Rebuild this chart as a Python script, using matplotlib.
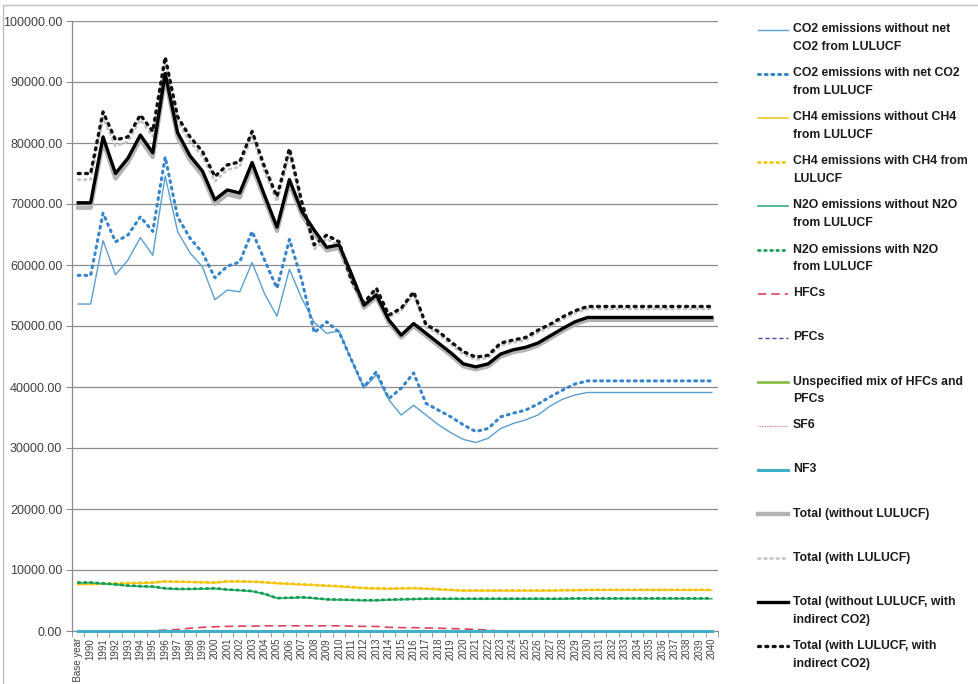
import matplotlib
matplotlib.use("Agg")
import matplotlib.pyplot as plt
from matplotlib.lines import Line2D
from matplotlib.patches import Rectangle
import numpy as np

categories = ["UNFCCC Base year", "1990", "1991", "1992", "1993", "1994", "1995", "1996", "1997",
              "1998", "1999", "2000", "2001", "2002", "2003", "2004", "2005", "2006", "2007",
              "2008", "2009", "2010", "2011", "2012", "2013", "2014", "2015", "2016", "2017",
              "2018", "2019", "2020", "2021", "2022", "2023", "2024", "2025", "2026", "2027",
              "2028", "2029", "2030", "2031", "2032", "2033", "2034", "2035", "2036", "2037",
              "2038", "2039", "2040"]

co2_without = [53600, 53600, 64000, 58400, 60800, 64500, 61600, 74600, 65500, 62000, 59700,
               54300, 55900, 55600, 60400, 55300, 51600, 59300, 54500, 50600, 48800, 49200,
               44400, 39800, 42000, 37900, 35400, 37000, 35400, 33800, 32500, 31400, 30900,
               31600, 33200, 34000, 34600, 35400, 36900, 38000, 38700, 39100, 39100, 39100,
               39100, 39100, 39100, 39100, 39100, 39100, 39100, 39100]
co2_with = [58300, 58300, 68500, 63800, 64900, 67900, 65500, 77700, 67900, 64400, 62000,
            57900, 59800, 60500, 65500, 60800, 56200, 64200, 57500, 48900, 50700, 49000,
            44400, 40000, 42500, 38100, 39800, 42300, 37300, 36200, 35100, 33800, 32700,
            33200, 35100, 35700, 36200, 37200, 38400, 39500, 40500, 41000, 41000, 41000,
            41000, 41000, 41000, 41000, 41000, 41000, 41000, 41000]
ch4_without = [7650, 7650, 7700, 7750, 7800, 7850, 7900, 8100, 8050, 8000, 7950,
               7900, 8100, 8100, 8050, 7950, 7800, 7700, 7600, 7500, 7400, 7300,
               7150, 7000, 6950, 6900, 6950, 7000, 6900, 6800, 6700, 6600, 6600,
               6600, 6600, 6600, 6600, 6600, 6600, 6650, 6650, 6700, 6700, 6700,
               6700, 6700, 6700, 6700, 6700, 6700, 6700, 6700]
ch4_with = [7700, 7700, 7750, 7800, 7850, 7900, 7950, 8150, 8100, 8050, 8000,
            7950, 8150, 8150, 8100, 8000, 7850, 7750, 7650, 7550, 7450, 7350,
            7200, 7050, 7000, 6950, 7000, 7050, 6950, 6850, 6750, 6650, 6650,
            6650, 6650, 6650, 6650, 6650, 6650, 6700, 6700, 6750, 6750, 6750,
            6750, 6750, 6750, 6750, 6750, 6750, 6750, 6750]
n2o_without = [7900, 7900, 7750, 7600, 7400, 7300, 7250, 6950, 6850, 6850, 6900,
               6950, 6750, 6650, 6500, 6050, 5350, 5400, 5500, 5350, 5150, 5100,
               5050, 5000, 5000, 5100, 5150, 5200, 5250, 5250, 5250, 5250, 5250,
               5250, 5250, 5250, 5250, 5250, 5250, 5250, 5300, 5300, 5300, 5300,
               5300, 5300, 5300, 5300, 5300, 5300, 5300, 5300]
n2o_with = [7950, 7950, 7800, 7650, 7450, 7350, 7300, 7000, 6900, 6900, 6950,
            7000, 6800, 6700, 6550, 6100, 5400, 5450, 5550, 5400, 5200, 5150,
            5100, 5050, 5050, 5150, 5200, 5250, 5300, 5300, 5300, 5300, 5300,
            5300, 5300, 5300, 5300, 5300, 5300, 5300, 5350, 5350, 5350, 5350,
            5350, 5350, 5350, 5350, 5350, 5350, 5350, 5350]
hfcs = [0, 0, 0, 0, 0, 0, 50, 150, 250, 450, 600,
        700, 750, 800, 800, 850, 850, 850, 850, 850, 850, 850,
        800, 750, 750, 600, 550, 550, 500, 450, 400, 350, 250,
        150, 0, 0, 0, 0, 0, 0, 0, 0, 0, 0,
        0, 0, 0, 0, 0, 0, 0, 0]
pfcs = [0, 0, 0, 0, 0, 0, 0, 0, 0, 0, 0, 0, 0, 0, 0, 0, 0, 0, 0, 0, 0, 0, 0, 0, 0, 0,
        0, 0, 0, 0, 0, 0, 0, 0, 0, 0, 0, 0, 0, 0, 0, 0, 0, 0, 0, 0, 0, 0, 0, 0, 0, 0]
unspecified = [0, 0, 0, 0, 0, 0, 0, 0, 0, 0, 0, 0, 0, 0, 0, 0, 0, 0, 0, 0, 0, 0, 0, 0, 0, 0,
               0, 0, 0, 0, 0, 0, 0, 0, 0, 0, 0, 0, 0, 0, 0, 0, 0, 0, 0, 0, 0, 0, 0, 0, 0, 0]
sf6 = [0, 0, 0, 0, 0, 0, 0, 0, 0, 0, 0, 0, 0, 0, 0, 0, 0, 0, 0, 0, 0, 0, 0, 0, 0, 0,
       0, 0, 0, 0, 0, 0, 0, 0, 0, 0, 0, 0, 0, 0, 0, 0, 0, 0, 0, 0, 0, 0, 0, 0, 0, 0]
nf3 = [0, 0, 0, 0, 0, 0, 0, 0, 0, 0, 0, 0, 0, 0, 0, 0, 0, 0, 0, 0, 0, 0, 0, 0, 0, 0,
       0, 0, 0, 0, 0, 0, 0, 0, 0, 0, 0, 0, 0, 0, 0, 0, 0, 0, 0, 0, 0, 0, 0, 0, 0, 0]
total_without = [69400, 69400, 80300, 74200, 76800, 80600, 77700, 90700, 81000, 77200, 74700,
                 70000, 71600, 71100, 76100, 70800, 65600, 73400, 68200, 65100, 62400, 62800,
                 58000, 53000, 54700, 50600, 48100, 50000, 48400, 46800, 45200, 43400, 42900,
                 43400, 45000, 45700, 46100, 46800, 48000, 49200, 50300, 51000, 51000, 51000,
                 51000, 51000, 51000, 51000, 51000, 51000, 51000, 51000]
total_with = [74000, 74000, 84100, 79500, 80200, 83800, 81100, 93300, 83500, 80200, 77800,
              73700, 75600, 76100, 81100, 75300, 70400, 78300, 69600, 62600, 64300, 63200,
              57000, 53300, 55700, 51400, 52500, 55200, 49800, 48700, 47000, 45400, 44500,
              44800, 46800, 47300, 47700, 48900, 49900, 51100, 52100, 52800, 52800, 52800,
              52800, 52800, 52800, 52800, 52800, 52800, 52800, 52800]
total_without_ind = [70200, 70200, 81000, 75000, 77500, 81300, 78400, 91400, 81700, 77900, 75400,
                     70700, 72300, 71800, 76800, 71400, 66200, 74000, 68800, 65700, 62900, 63300,
                     58500, 53400, 55100, 51000, 48500, 50400, 48800, 47200, 45600, 43800, 43300,
                     43800, 45400, 46100, 46500, 47200, 48400, 49600, 50700, 51400, 51400, 51400,
                     51400, 51400, 51400, 51400, 51400, 51400, 51400, 51400]
total_with_ind = [75000, 75000, 85100, 80500, 81000, 84600, 81900, 94100, 84300, 81000, 78600,
                  74500, 76400, 76900, 81900, 76100, 71200, 79100, 70300, 63300, 64900, 63800,
                  57500, 53800, 56200, 51800, 52900, 55600, 50200, 49100, 47400, 45800, 44900,
                  45200, 47200, 47700, 48100, 49300, 50300, 51500, 52500, 53200, 53200, 53200,
                  53200, 53200, 53200, 53200, 53200, 53200, 53200, 53200]

legend_labels = [
    ["CO2 emissions without net", "CO2 from LULUCF"],
    ["CO2 emissions with net CO2", "from LULUCF"],
    ["CH4 emissions without CH4", "from LULUCF"],
    ["CH4 emissions with CH4 from", "LULUCF"],
    ["N2O emissions without N2O", "from LULUCF"],
    ["N2O emissions with N2O", "from LULUCF"],
    ["HFCs"],
    ["PFCs"],
    ["Unspecified mix of HFCs and", "PFCs"],
    ["SF6"],
    ["NF3"],
    ["Total (without LULUCF)"],
    ["Total (with LULUCF)"],
    ["Total (without LULUCF, with", "indirect CO2)"],
    ["Total (with LULUCF, with", "indirect CO2)"],
]

series = [co2_without, co2_with, ch4_without, ch4_with, n2o_without, n2o_with, hfcs, pfcs,
          unspecified, sf6, nf3, total_without, total_with, total_without_ind, total_with_ind]

styles = [
    dict(color="#5a9fd4", lw=1.0, ls="-"),
    dict(color="#3585cc", lw=2.2, ls=(0, (0.6, 1.6)), dash_capstyle="round"),
    dict(color="#f2c531", lw=1.2, ls="-"),
    dict(color="#f5c400", lw=2.0, ls=(0, (0.6, 1.6)), dash_capstyle="round"),
    dict(color="#3aae7a", lw=1.2, ls="-"),
    dict(color="#14a050", lw=2.0, ls=(0, (0.6, 1.6)), dash_capstyle="round"),
    dict(color="#e0405a", lw=1.2, ls=(0, (5, 3))),
    dict(color="#5a3fa0", lw=1.0, ls=(0, (3, 2))),
    dict(color="#8cbd4a", lw=2.0, ls="-"),
    dict(color="#c0504d", lw=0.6, ls=(0, (1, 1))),
    dict(color="#3fb0c8", lw=2.2, ls="-"),
    dict(color="#b4b4b4", lw=3.2, ls="-"),
    dict(color="#c4c4c4", lw=2.0, ls=(0, (0.6, 1.6)), dash_capstyle="round"),
    dict(color="#000000", lw=2.4, ls="-"),
    dict(color="#111111", lw=2.4, ls=(0, (0.6, 1.6)), dash_capstyle="round"),
]

plt.rcParams['font.family'] = ['Liberation Sans', 'DejaVu Sans']

fig = plt.figure(figsize=(9.79, 6.84), dpi=100)
W, H = 979, 684
ax = fig.add_axes([72 / W, (H - 631) / H, (718 - 72) / W, (631 - 21) / H])

x = np.arange(len(categories))
for vals, st in zip(series, styles):
    ax.plot(x, vals, clip_on=False, zorder=3, **st)

ax.set_xlim(-0.5, len(categories) - 0.5)
ax.set_ylim(0, 100000)
yt = np.arange(0, 100001, 10000)
ax.set_yticks(yt)
ax.set_yticklabels(["%.2f" % v for v in yt], fontsize=9, color="#404040")
ax.yaxis.grid(True, color="#8c8c8c", lw=0.9)
ax.set_axisbelow(True)
ax.tick_params(axis="y", length=4, color="#8c8c8c", pad=3)

ax.set_xticks(x)
ax.set_xticklabels(categories, rotation=90, fontsize=7, color="#404040")
ax.tick_params(axis="x", which="major", length=0, pad=5)
ax.set_xticks(np.arange(-0.5, len(categories), 1), minor=True)
ax.tick_params(axis="x", which="minor", length=4, color="#8c8c8c")

for s in ["top", "right"]:
    ax.spines[s].set_visible(False)
for s in ["left", "bottom"]:
    ax.spines[s].set_color("#8c8c8c")
    ax.spines[s].set_linewidth(0.9)

# chart area border
fig.patches.append(Rectangle((3 / W, -0.1), 1.2, (H - 5) / H + 0.1, transform=fig.transFigure,
                             fill=False, edgecolor="#bdbdbd", lw=1.0))

# manual legend
for k, (lab, st) in enumerate(zip(legend_labels, styles)):
    yc = 29.5 + 44.0 * k
    yf = (H - yc) / H
    st2 = {kk: vv for kk, vv in st.items()}
    lw = st2.pop("lw")
    fig.add_artist(Line2D([758 / W, 788 / W], [yf, yf], transform=fig.transFigure,
                          lw=lw, **st2))
    for j, line in enumerate(lab):
        fig.text(793 / W, (H - yc - 18 * j) / H, line, fontsize=8.8, fontweight="bold",
                 color="#1a1a1a", va="center", ha="left")

fig.savefig("out.png", dpi=100)
